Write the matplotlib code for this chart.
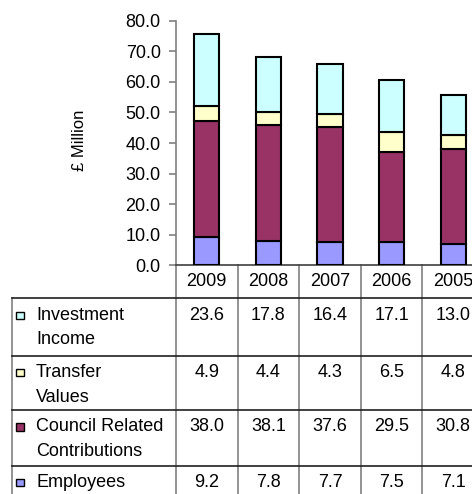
import matplotlib
matplotlib.use("Agg")
import matplotlib.pyplot as plt
import matplotlib.transforms as mtransforms
from matplotlib.patches import Rectangle
import numpy as np

plt.rcParams['font.family'] = ['Liberation Sans', 'DejaVu Sans']

years = ["2009", "2008", "2007", "2006", "2005"]
employees = [9.2, 7.8, 7.7, 7.5, 7.1]
council = [38.0, 38.1, 37.6, 29.5, 30.8]
transfer = [4.9, 4.4, 4.3, 6.5, 4.8]
investment = [23.6, 17.8, 16.4, 17.1, 13.0]

series_names = [["Employees"], ["Council Related", "Contributions"], ["Transfer", "Values"], ["Investment", "Income"]]
series_values = [employees, council, transfer, investment]
series_colors = ["#9999FF", "#993366", "#FFFFCC", "#CCFFFF"]

FS = 13

W, H = 472, 494
fig = plt.figure(figsize=(W / 100, H / 100), dpi=100)
fig.patch.set_facecolor("white")

ax_left, ax_right = 176, 484
ax_top, ax_bot = 20.7, 265.3
ax = fig.add_axes([ax_left / W, 1 - ax_bot / H, (ax_right - ax_left) / W, (ax_bot - ax_top) / H])

x = np.arange(len(years))
bottom = np.zeros(len(years))
for vals, col in zip(series_values, series_colors):
    ax.bar(x, vals, bottom=bottom, width=0.41, color=col, edgecolor="black", linewidth=1.5, zorder=3)
    bottom += np.array(vals)

ax.set_xlim(-0.5, len(years) - 0.5)
ax.set_ylim(0, 80)
ax.set_yticks(np.arange(0, 81, 10))
ax.set_yticklabels([f"{v:.1f}" for v in np.arange(0, 81, 10)], fontsize=FS)
ax.set_xticks([])
for s in ["top", "right"]:
    ax.spines[s].set_visible(False)
ax.spines["left"].set_color("#808080")
ax.spines["left"].set_linewidth(1.2)
ax.spines["bottom"].set_color("#404040")
ax.spines["bottom"].set_linewidth(1.2)
ax.tick_params(axis="y", direction="out", length=5, color="#808080", width=1.2, pad=6, labelcolor="black")
ax.set_facecolor("none")

fig.text(80 / W, 1 - 140 / H, "£ Million", rotation=90, ha="center", va="center", fontsize=12)

# table drawn with x in data coords, y in figure coords
tr = mtransforms.blended_transform_factory(ax.transData, fig.transFigure)
px_per_unit = (ax_right - ax_left) / len(years)
x_label_left = -0.5 + (12 - ax_left) / px_per_unit

def fy(p):
    return 1 - p / H

bottom_px = 530
row_tops = [298.5, 355.7, 410.3, 465.7]

# vertical lines (column boundaries)
for b in np.arange(-0.5, len(years) + 0.5, 1.0):
    ax.plot([b, b], [fy(ax_bot), fy(bottom_px)], color="#808080", lw=1.2, transform=tr, clip_on=False)
ax.plot([x_label_left, x_label_left], [fy(row_tops[0]), fy(bottom_px)], color="#808080", lw=1.2,
        transform=tr, clip_on=False)
# horizontal lines
for rt in row_tops:
    ax.plot([x_label_left, len(years) + 0.5], [fy(rt), fy(rt)], color="#202020", lw=1.2,
            transform=tr, clip_on=False)

# header years
for xi, yr in zip(x, years):
    ax.text(xi, fy(281.5), yr, ha="center", va="center", fontsize=FS, transform=tr, clip_on=False)

# rows: top to bottom
rows = list(zip(series_names, series_values, series_colors))[::-1]
sq = 7.5
for rt, (name, vals, col) in zip(row_tops, rows):
    first = rt + 16.5
    for xi, v in zip(x, vals):
        ax.text(xi, fy(first), f"{v:.1f}", ha="center", va="center", fontsize=FS, transform=tr, clip_on=False)
    for k, line in enumerate(name):
        ax.text(x_label_left + (36 - 12) / px_per_unit, fy(first + 25 * k), line, ha="left", va="center",
                fontsize=FS, transform=tr, clip_on=False)
    rect = Rectangle((16.3 / W, 1 - (first + 4) / H), sq / W, sq / H, transform=fig.transFigure,
                     facecolor=col, edgecolor="black", linewidth=1.0, clip_on=False)
    fig.add_artist(rect)

fig.savefig("out.png", dpi=100)
